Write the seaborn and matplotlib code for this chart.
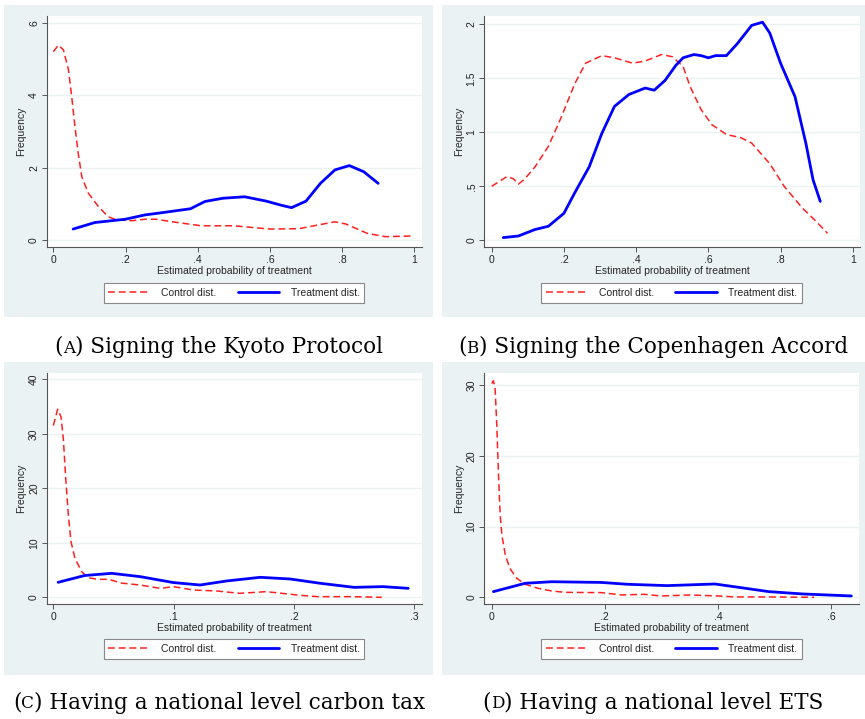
import matplotlib
matplotlib.use("Agg")
import matplotlib.pyplot as plt
import seaborn as sns
import pandas as pd
from matplotlib.patches import Rectangle

# ---------------- data ----------------
# Panel A: Kyoto Protocol
a_ctrl_x = [0.0, 0.014, 0.028, 0.042, 0.051, 0.06, 0.069, 0.079, 0.097, 0.125, 0.152, 0.176, 0.217, 0.254, 0.286, 0.33, 0.41, 0.50, 0.60, 0.68, 0.78, 0.81, 0.87, 0.92, 1.0]
a_ctrl_y = [5.2, 5.38, 5.25, 4.70, 3.96, 3.13, 2.40, 1.75, 1.30, 0.93, 0.65, 0.56, 0.54, 0.58, 0.58, 0.51, 0.40, 0.40, 0.31, 0.32, 0.51, 0.45, 0.19, 0.10, 0.12]
a_trt_x = [0.055, 0.115, 0.199, 0.254, 0.30, 0.38, 0.42, 0.47, 0.53, 0.59, 0.63, 0.66, 0.70, 0.74, 0.78, 0.82, 0.86, 0.90]
a_trt_y = [0.31, 0.49, 0.58, 0.70, 0.76, 0.87, 1.07, 1.16, 1.20, 1.08, 0.97, 0.90, 1.08, 1.57, 1.94, 2.06, 1.89, 1.57]

# Panel B: Copenhagen Accord
b_ctrl_x = [0.0, 0.042, 0.06, 0.074, 0.092, 0.12, 0.157, 0.194, 0.23, 0.26, 0.305, 0.34, 0.39, 0.425, 0.47, 0.50, 0.53, 0.55, 0.58, 0.61, 0.65, 0.69, 0.72, 0.77, 0.81, 0.86, 0.90, 0.93]
b_ctrl_y = [0.50, 0.59, 0.57, 0.52, 0.57, 0.68, 0.87, 1.15, 1.45, 1.64, 1.71, 1.69, 1.64, 1.66, 1.72, 1.70, 1.61, 1.42, 1.21, 1.07, 0.98, 0.95, 0.90, 0.71, 0.50, 0.30, 0.17, 0.065]
b_trt_x = [0.032, 0.074, 0.12, 0.157, 0.20, 0.23, 0.27, 0.305, 0.34, 0.38, 0.425, 0.45, 0.48, 0.51, 0.53, 0.56, 0.58, 0.60, 0.62, 0.65, 0.68, 0.72, 0.75, 0.77, 0.80, 0.84, 0.87, 0.89, 0.91]
b_trt_y = [0.025, 0.04, 0.10, 0.13, 0.25, 0.44, 0.68, 0.99, 1.24, 1.35, 1.41, 1.39, 1.48, 1.62, 1.69, 1.72, 1.71, 1.69, 1.71, 1.71, 1.82, 1.99, 2.02, 1.92, 1.64, 1.33, 0.90, 0.56, 0.36]

# Panel C: national carbon tax
c_ctrl_x = [0.0, 0.0036, 0.0064, 0.0083, 0.0103, 0.0125, 0.0147, 0.018, 0.0236, 0.029, 0.037, 0.046, 0.057, 0.072, 0.089, 0.10, 0.116, 0.136, 0.155, 0.177, 0.19, 0.205, 0.22, 0.247, 0.273]
c_ctrl_y = [31.5, 34.5, 33.1, 29.2, 21.8, 15.1, 10.2, 7.15, 4.7, 3.6, 3.3, 3.3, 2.6, 2.26, 1.65, 1.96, 1.35, 1.16, 0.73, 1.04, 0.73, 0.37, 0.12, 0.12, 0.0]
c_trt_x = [0.004, 0.026, 0.0485, 0.072, 0.10, 0.122, 0.144, 0.172, 0.197, 0.222, 0.25, 0.274, 0.295]
c_trt_y = [2.75, 4.0, 4.4, 3.8, 2.7, 2.26, 3.0, 3.67, 3.36, 2.57, 1.83, 1.96, 1.65]

# Panel D: national ETS
d_ctrl_x = [0.0, 0.003, 0.006, 0.009, 0.012, 0.015, 0.018, 0.024, 0.032, 0.044, 0.059, 0.082, 0.106, 0.13, 0.194, 0.23, 0.27, 0.30, 0.35, 0.40, 0.43, 0.49, 0.57]
d_ctrl_y = [30.2, 30.6, 29.5, 24.3, 17.3, 11.6, 8.8, 6.0, 4.1, 2.7, 1.84, 1.27, 0.89, 0.70, 0.66, 0.33, 0.42, 0.19, 0.33, 0.19, 0.05, 0.05, 0.0]
d_trt_x = [0.003, 0.059, 0.106, 0.194, 0.24, 0.31, 0.395, 0.44, 0.49, 0.55, 0.636]
d_trt_y = [0.8, 1.98, 2.2, 2.1, 1.84, 1.65, 1.88, 1.37, 0.8, 0.47, 0.19]

captions = ["Signing the Kyoto Protocol", "Signing the Copenhagen Accord",
            "Having a national level carbon tax", "Having a national level ETS"]
letters = ["A", "B", "C", "D"]
y_ticks = [[0, 2, 4, 6], [0, 0.5, 1, 1.5, 2], [0, 10, 20, 30, 40], [0, 10, 20, 30]]
y_ticklabels = [["0", "2", "4", "6"], ["0", ".5", "1", "1.5", "2"],
                ["0", "10", "20", "30", "40"], ["0", "10", "20", "30"]]
x_ticks = [[0, 0.2, 0.4, 0.6, 0.8, 1.0], [0, 0.2, 0.4, 0.6, 0.8, 1.0],
           [0, 0.1, 0.2, 0.3], [0, 0.2, 0.4, 0.6]]
x_ticklabels = [["0", ".2", ".4", ".6", ".8", "1"], ["0", ".2", ".4", ".6", ".8", "1"],
                ["0", ".1", ".2", ".3"], ["0", ".2", ".4", ".6"]]
series_names = ["Control dist.", "Treatment dist."]

# ---------------- styling / layout ----------------
sns.set_style("ticks")
plt.rcParams["font.family"] = ["Liberation Sans", "DejaVu Sans"]
plt.rcParams["text.color"] = "#222222"

W, H = 865, 719
fig = plt.figure(figsize=(W / 100, H / 100), dpi=100)
fig.patch.set_facecolor("white")
renderer = fig.canvas.get_renderer()

BG = "#eaf2f3"
RED = "#ff2020"
BLUE = "#0000ff"
CAP_SIZE = 15.5

def frac_rect(l, t, r, b):
    return [l / W, 1 - b / H, (r - l) / W, (b - t) / H]

# background boxes (pixels)
bg_boxes = [(4, 5, 433, 317), (442, 5, 865, 317), (4, 362, 433, 675), (442, 362, 865, 675)]
ax_boxes = [(46.7, 16, 421.7, 247.3), (484.3, 16, 860, 247), (46.7, 372.7, 421.7, 604.3), (484.3, 372.7, 859.3, 604.3)]
xlims = [(-0.0183, 1.0205), (-0.0205, 1.020), (-0.0055, 0.3062), (-0.0131, 0.650)]
ylims = [(-0.193, 6.184), (-0.062, 2.077), (-1.28, 41.2), (-0.99, 31.74)]
legend_centers = [(234, 293), (671.5, 293), (234, 649), (671.5, 649)]
caption_y = [347, 347, 703, 703]
caption_x = [219, 653, 219, 653]

data = [(a_ctrl_x, a_ctrl_y, a_trt_x, a_trt_y),
        (b_ctrl_x, b_ctrl_y, b_trt_x, b_trt_y),
        (c_ctrl_x, c_ctrl_y, c_trt_x, c_trt_y),
        (d_ctrl_x, d_ctrl_y, d_trt_x, d_trt_y)]


def caption(cx, cy, letter, rest):
    """Caption with a small-caps panel letter, centred at (cx, cy) pixels."""
    parts = [("(", CAP_SIZE), (letter, CAP_SIZE * 0.78), (") " + rest, CAP_SIZE)]
    texts = []
    for s, fs in parts:
        t = fig.text(0, 1 - cy / H, s, ha="left", va="baseline", fontsize=fs,
                     color="black", family=["DejaVu Serif"])
        texts.append(t)
    widths = [t.get_window_extent(renderer).width for t in texts]
    total = sum(widths)
    x = cx - total / 2
    base = 1 - (cy + 5.5) / H
    for t, w in zip(texts, widths):
        t.set_position((x / W, base))
        x += w


for i in range(4):
    l, t, r, b = bg_boxes[i]
    fig.patches.append(Rectangle((l / W, 1 - b / H), (r - l) / W, (b - t) / H,
                                 transform=fig.transFigure, facecolor=BG,
                                 edgecolor="none", zorder=-10))
    ax = fig.add_axes(frac_rect(*ax_boxes[i]))
    ax.set_facecolor("white")
    cx, cy, tx, ty = data[i]
    df_c = pd.DataFrame({"x": cx, "y": cy})
    df_t = pd.DataFrame({"x": tx, "y": ty})
    sns.lineplot(data=df_c, x="x", y="y", ax=ax, color=RED, linewidth=1.1,
                 linestyle=(0, (4.5, 2.5)), label=series_names[0], sort=False)
    sns.lineplot(data=df_t, x="x", y="y", ax=ax, color=BLUE, linewidth=2.0,
                 label=series_names[1], sort=False)
    for ln in ax.lines:
        ln.set_solid_joinstyle("round")
        ln.set_dash_joinstyle("round")
    ax.set_xlim(*xlims[i])
    ax.set_ylim(*ylims[i])
    ax.set_xticks(x_ticks[i])
    ax.set_xticklabels(x_ticklabels[i], fontsize=7.5)
    ax.set_yticks(y_ticks[i])
    ax.set_yticklabels(y_ticklabels[i], fontsize=7.5, rotation=90, va="center")
    ax.tick_params(axis="both", length=3.5, width=0.7, color="#555555", pad=2,
                   labelcolor="#222222")
    ax.grid(axis="y", color=BG, linewidth=1.0)
    ax.set_axisbelow(True)
    for s in ["top", "right"]:
        ax.spines[s].set_visible(False)
    for s in ["left", "bottom"]:
        ax.spines[s].set_color("#555555")
        ax.spines[s].set_linewidth(0.8)
    ax.set_xlabel("Estimated probability of treatment", fontsize=7.5, labelpad=1)
    ax.set_ylabel("Frequency", fontsize=7.5, labelpad=2)
    ax.legend_.remove()
    h, lab = ax.get_legend_handles_labels()
    lx, ly = legend_centers[i]
    leg = fig.legend(h, lab, loc="center", bbox_to_anchor=(lx / W, 1 - ly / H),
                     ncol=2, fontsize=7.5, frameon=True, fancybox=False,
                     edgecolor="#888888", framealpha=1, handlelength=4.0,
                     columnspacing=2.0, handletextpad=1.1, borderpad=0.45,
                     borderaxespad=0)
    leg.get_frame().set_linewidth(0.8)
    caption(caption_x[i], caption_y[i], letters[i], captions[i])

fig.savefig("out.png", dpi=100, facecolor="white")
